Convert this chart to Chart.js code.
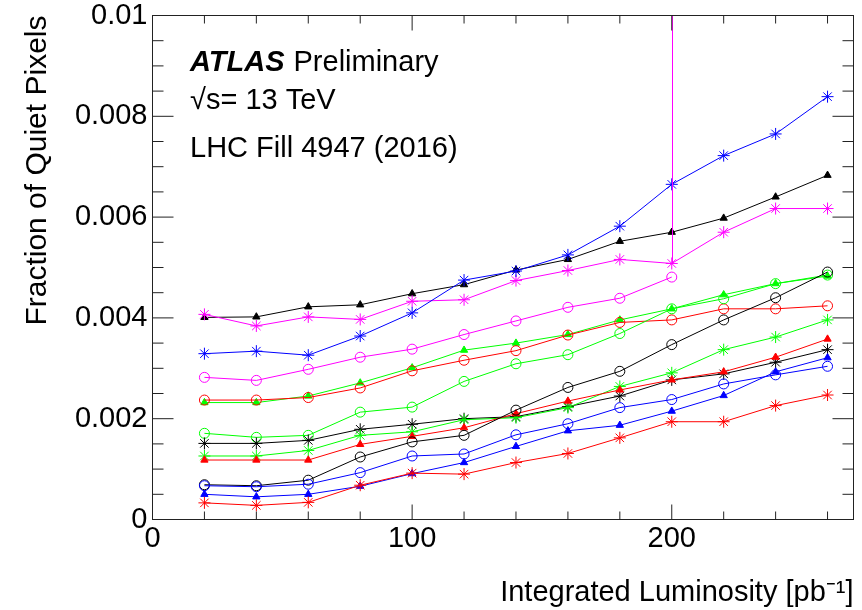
<!DOCTYPE html>
<html>
<head>
<meta charset="utf-8">
<script src="https://cdn.jsdelivr.net/npm/chart.js@4.4.1/dist/chart.umd.min.js"></script>
<style>
html,body{margin:0;padding:0;background:#fff;}
#wrap{width:862px;height:610px;position:relative;}
</style>
</head>
<body>
<div id="wrap"><canvas id="c" width="862" height="610"></canvas></div>
<script>
// ---- data ----
const lumi = [20, 40, 60, 80, 100, 120, 140, 160, 180, 200, 220, 240, 260];
const xTickStep = 20;
const yTickStep = 0.0005;

const blackTriangle = [0.00401,0.00402,0.00422,0.00426,0.00448,0.00466,0.00495,0.00516,0.00552,0.00570,0.00598,0.00640,0.00683];
const magentaStar   = [0.00407,0.00384,0.00402,0.00397,0.00433,0.00436,0.00474,0.00494,0.00516,0.00508,0.00570,0.00617,0.00617];
const magentaStarErrUp = [0,0,0,0,0,0,0,0,0,0.0055,0,0,0];
const blueStar      = [0.00329,0.00334,0.00326,0.00364,0.00410,0.00475,0.00493,0.00525,0.00582,0.00665,0.00722,0.00765,0.00839];
const magentaCircle = [0.00282,0.00276,0.00298,0.00322,0.00338,0.00367,0.00394,0.00421,0.00439,0.00481];
const greenTriangle = [0.00232,0.00232,0.00245,0.00271,0.00301,0.00336,0.00350,0.00367,0.00396,0.00418,0.00446,0.00468,0.00483];
const redCircle     = [0.00237,0.00237,0.00242,0.00261,0.00295,0.00316,0.00335,0.00366,0.00391,0.00396,0.00418,0.00418,0.00424];
const greenCircle   = [0.00171,0.00163,0.00167,0.00213,0.00223,0.00274,0.00309,0.00327,0.00369,0.00418,0.00438,0.00468,0.00485];
const blackStar     = [0.00151,0.00151,0.00157,0.00179,0.00189,0.00200,0.00204,0.00224,0.00245,0.00277,0.00289,0.00312,0.00337];
const greenStar     = [0.00126,0.00126,0.00137,0.00167,0.00174,0.00198,0.00202,0.00222,0.00264,0.00291,0.00337,0.00362,0.00396];
const redTriangle   = [0.00118,0.00118,0.00118,0.00149,0.00165,0.00182,0.00210,0.00235,0.00257,0.00277,0.00293,0.00322,0.00358];
const blackCircle   = [0.00069,0.00067,0.00078,0.00124,0.00154,0.00167,0.00217,0.00262,0.00294,0.00347,0.00396,0.00440,0.00491];
const blueCircle    = [0.00067,0.00065,0.00070,0.00093,0.00126,0.00130,0.00168,0.00190,0.00222,0.00238,0.00269,0.00287,0.00304];
const blueTriangle  = [0.00050,0.00045,0.00050,0.00066,0.00091,0.00113,0.00145,0.00176,0.00187,0.00215,0.00246,0.00293,0.00321];
const redStar       = [0.00033,0.00028,0.00034,0.00068,0.00092,0.00090,0.00113,0.00131,0.00162,0.00194,0.00194,0.00226,0.00247];

// ---- styling ----
const COLORS = {black:'#000000', red:'#ff0000', green:'#00ff00', blue:'#0000ff', magenta:'#ff00ff'};
const FONT = '"Liberation Sans", Arial, Helvetica, sans-serif';

function series(vals, color, marker, extra) {
  const pts = vals.map((v, i) => ({x: lumi[i], y: v}));
  const ds = {
    data: pts,
    borderColor: color,
    borderWidth: 1,
    pointBorderColor: color,
    pointBorderWidth: 1,
    tension: 0,
    fill: false
  };
  if (marker === 'triangle') {
    ds.pointStyle = 'triangle'; ds.pointRadius = 4.2; ds.pointBackgroundColor = color;
  } else if (marker === 'circle') {
    ds.pointStyle = 'circle'; ds.pointRadius = 5; ds.pointBackgroundColor = 'rgba(0,0,0,0)';
  } else {
    ds.pointStyle = 'star'; ds.pointRadius = 6; ds.pointBackgroundColor = color;
  }
  return Object.assign(ds, extra || {});
}

const datasets = [
  series(redStar, COLORS.red, 'star'),
  series(blueTriangle, COLORS.blue, 'triangle'),
  series(blueCircle, COLORS.blue, 'circle'),
  series(blackCircle, COLORS.black, 'circle'),
  series(redTriangle, COLORS.red, 'triangle'),
  series(greenStar, COLORS.green, 'star'),
  series(blackStar, COLORS.black, 'star'),
  series(greenCircle, COLORS.green, 'circle'),
  series(redCircle, COLORS.red, 'circle'),
  series(greenTriangle, COLORS.green, 'triangle'),
  series(magentaCircle, COLORS.magenta, 'circle'),
  series(blueStar, COLORS.blue, 'star'),
  series(magentaStar, COLORS.magenta, 'star', {errUp: magentaStarErrUp}),
  series(blackTriangle, COLORS.black, 'triangle')
];

function isMajorY(v){ const r = v / 0.002; return Math.abs(r - Math.round(r)) < 1e-6; }
function isMajorX(v){ return Math.abs(v % 100) < 1e-6; }

const rootStyle = {
  id: 'rootStyle',
  afterDatasetsDraw(chart) {
    const {ctx, chartArea: a, scales: {x, y}} = chart;
    ctx.save();
    ctx.beginPath();
    ctx.rect(a.left, a.top, a.right - a.left, a.bottom - a.top);
    ctx.clip();
    chart.data.datasets.forEach(ds => {
      if (!ds.errUp) return;
      ds.data.forEach((p, i) => {
        const e = ds.errUp[i];
        if (!e) return;
        const px = Math.round(x.getPixelForValue(p.x)) + 0.5;
        ctx.strokeStyle = ds.borderColor;
        ctx.lineWidth = 1;
        ctx.beginPath();
        ctx.moveTo(px, y.getPixelForValue(p.y));
        ctx.lineTo(px, y.getPixelForValue(p.y + e));
        ctx.stroke();
      });
    });
    ctx.restore();
  },
  afterDraw(chart) {
    const {ctx, chartArea: a, scales: {x, y}} = chart;
    ctx.save();
    ctx.strokeStyle = '#222';
    ctx.lineWidth = 1;
    // frame
    ctx.strokeRect(a.left, a.top, a.right - a.left, a.bottom - a.top);
    ctx.beginPath();
    // y ticks, left and right, pointing inward
    y.ticks.forEach(t => {
      const py = y.getPixelForValue(t.value);
      const len = isMajorY(t.value) ? 21 : 11;
      ctx.moveTo(a.left, py); ctx.lineTo(a.left + len, py);
      ctx.moveTo(a.right, py); ctx.lineTo(a.right - len, py);
    });
    // x ticks, bottom and top
    x.ticks.forEach(t => {
      const px = x.getPixelForValue(t.value);
      const len = isMajorX(t.value) ? 15 : 8;
      ctx.moveTo(px, a.bottom); ctx.lineTo(px, a.bottom - len);
      ctx.moveTo(px, a.top); ctx.lineTo(px, a.top + len);
    });
    ctx.stroke();

    // annotation texts
    ctx.fillStyle = '#000';
    ctx.textBaseline = 'alphabetic';
    ctx.textAlign = 'left';
    ctx.font = 'italic bold 29px ' + FONT;
    ctx.fillText('ATLAS', 190, 71);
    const w = ctx.measureText('ATLAS').width;
    ctx.font = '29px ' + FONT;
    ctx.fillText('Preliminary', 190 + w + 9, 71);
    ctx.fillText('\u221As= 13 TeV', 190, 109);
    ctx.fillText('LHC Fill 4947 (2016)', 190, 157);
    ctx.restore();
  }
};

new Chart(document.getElementById('c'), {
  type: 'line',
  data: { datasets },
  options: {
    responsive: false,
    animation: false,
    devicePixelRatio: 1,
    layout: { padding: { top: 15.5, right: 8.5, left: 0, bottom: 0 } },
    plugins: { legend: { display: false }, tooltip: { enabled: false } },
    scales: {
      x: {
        type: 'linear',
        min: 0, max: 270,
        grid: { display: false, drawTicks: false },
        border: { display: false },
        ticks: {
          stepSize: xTickStep,
          includeBounds: false,
          autoSkip: false,
          maxRotation: 0,
          padding: 2,
          color: '#000',
          font: { family: FONT, size: 29 },
          callback: v => isMajorX(v) ? String(v) : ''
        },
        title: {
          display: true,
          text: 'Integrated Luminosity [pb\u207B\u00B9]',
          align: 'end',
          color: '#000',
          font: { family: FONT, size: 29 },
          padding: { top: 0, bottom: 0 }
        },
        afterFit: s => { s.height = 90.5; s.paddingLeft = 0; s.paddingRight = 0; }
      },
      y: {
        type: 'linear',
        min: 0, max: 0.01,
        grid: { display: false, drawTicks: false },
        border: { display: false },
        ticks: {
          stepSize: yTickStep,
          autoSkip: false,
          padding: 5,
          color: '#000',
          font: { family: FONT, size: 29 },
          callback: v => isMajorY(v) ? String(parseFloat(v.toFixed(4))) : ''
        },
        title: {
          display: true,
          text: 'Fraction of Quiet Pixels',
          align: 'end',
          color: '#000',
          font: { family: FONT, size: 30 },
          padding: { top: 20, bottom: 0 }
        },
        afterFit: s => { s.width = 152.5; s.paddingTop = 0; s.paddingBottom = 0; }
      }
    }
  },
  plugins: [rootStyle]
});
</script>
</body>
</html>
